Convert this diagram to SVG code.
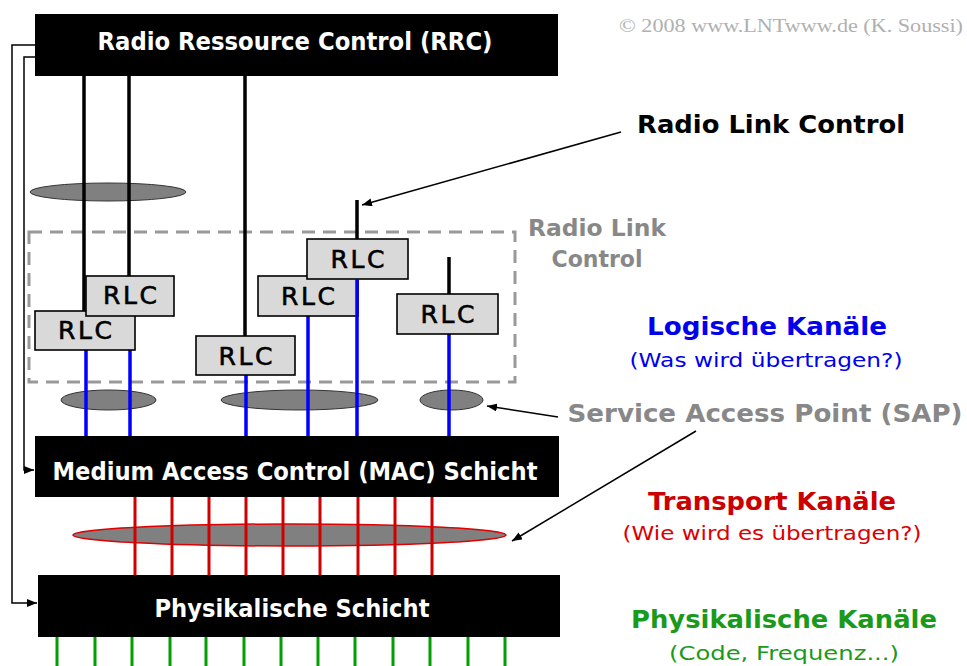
<svg xmlns="http://www.w3.org/2000/svg" width="967" height="666" viewBox="0 0 967 666">
<defs>
<marker id="ah" markerUnits="userSpaceOnUse" markerWidth="11" markerHeight="9" refX="10" refY="4" orient="auto">
<path d="M0,0 L10,4 L0,8 z" fill="#000"/>
</marker>
<style>
.blk{fill:#000}
.wt{fill:#fff;font-family:"DejaVu Sans",sans-serif;font-weight:bold;font-size:24px;text-anchor:middle}
.rlc rect{fill:#d9d9d9;stroke:#000;stroke-width:1.6}
.rlc text{fill:#000;stroke:#000;stroke-width:0.6;font-family:"DejaVu Sans",sans-serif;font-size:25px;text-anchor:middle}
.sap{fill:#808080;stroke:#333;stroke-width:1}
.lb{stroke:#000;stroke-width:3.5;fill:none}
.lu{stroke:#0000ff;stroke-width:3.5;fill:none}
.lr{stroke:#d00000;stroke-width:3;fill:none}
.lg{stroke:#00a000;stroke-width:3;fill:none}
.thin{stroke:#000;stroke-width:1.5;fill:none}
.bold{font-family:"DejaVu Sans",sans-serif;font-weight:bold;text-anchor:middle}
.norm{font-family:"DejaVu Sans",sans-serif;text-anchor:middle}
</style>
</defs>
<rect width="967" height="666" fill="#fff"/>

<g id="rlc-frame">
<rect x="29" y="232" width="486" height="150" fill="none" stroke="#999" stroke-width="3" stroke-dasharray="13 8"/>
</g>

<g id="sap-top"><ellipse class="sap" cx="108" cy="192" rx="78" ry="9"/></g>
<g id="sap-1"><ellipse class="sap" cx="108.5" cy="400" rx="47.5" ry="10"/></g>
<g id="sap-2"><ellipse class="sap" cx="299.5" cy="400" rx="78.5" ry="10"/></g>
<g id="sap-3"><ellipse class="sap" cx="451.5" cy="400" rx="31.5" ry="10"/></g>
<g id="sap-transport"><ellipse cx="289.5" cy="535" rx="216.5" ry="11" fill="#808080" stroke="#e00000" stroke-width="1.5"/></g>

<g id="connectors">
<path class="lb" d="M84,76V311 M129,76V276 M245,76V336 M357,200V239 M449,257V294"/>
<path class="lu" d="M86,350V436 M130,350V436 M246,375V436 M308,316V436 M449,334V436"/>
<path class="lr" d="M135,497V575 M172,497V575 M209,497V575 M246,497V575 M283,497V575 M320,497V575 M358,497V575 M395,497V575 M432,497V575"/>
<path class="lg" d="M57,637V666 M95,637V666 M132,637V666 M170,637V666 M206,637V666 M244,637V666 M281,637V666 M318,637V666 M355,637V666 M393,637V666 M430,637V666 M468,637V666 M505,637V666"/>
<polyline class="thin" points="35,45 12,45 12,603 37,603" marker-end="url(#ah)"/>
<polyline class="thin" points="35,57 24,57 24,470 34,470" marker-end="url(#ah)"/>
<line class="thin" x1="621" y1="132" x2="362" y2="205" marker-end="url(#ah)"/>
<line class="thin" x1="558" y1="417" x2="487" y2="406" marker-end="url(#ah)"/>
<line class="thin" x1="696" y1="431" x2="512" y2="541" marker-end="url(#ah)"/>
</g>

<g id="rlc-b" class="rlc"><rect x="35" y="311" width="100" height="39"/><text x="85" y="339" textLength="54">RLC</text></g>
<g id="rlc-a" class="rlc"><rect x="86" y="276" width="88" height="40"/><text x="130" y="304" textLength="54">RLC</text></g>
<g id="rlc-c" class="rlc"><rect x="196" y="336" width="99" height="39"/><text x="245.5" y="365" textLength="54">RLC</text></g>
<g id="rlc-e" class="rlc"><rect x="258" y="276" width="100" height="40"/><text x="308" y="305" textLength="54">RLC</text></g>
<g id="rlc-d" class="rlc"><rect x="307" y="239" width="101" height="40"/><text x="357.5" y="268" textLength="54">RLC</text></g>
<g id="rlc-f" class="rlc"><rect x="397" y="294" width="101" height="40"/><text x="447.5" y="323" textLength="54">RLC</text></g>
<path class="lu" d="M357,279V436"/>

<g id="rrc"><rect class="blk" x="35" y="14" width="523" height="62"/><text class="wt" x="295" y="50" textLength="395" lengthAdjust="spacingAndGlyphs">Radio Ressource Control (RRC)</text></g>
<g id="mac"><rect class="blk" x="35" y="436" width="524" height="61"/><text class="wt" x="295" y="480" textLength="485" lengthAdjust="spacingAndGlyphs">Medium Access Control (MAC) Schicht</text></g>
<g id="phy"><rect class="blk" x="38" y="575" width="522" height="62"/><text class="wt" x="292" y="617" textLength="275" lengthAdjust="spacingAndGlyphs">Physikalische Schicht</text></g>

<g id="labels">
<text x="791" y="32" font-family="'Liberation Serif',serif" font-size="19" fill="#b0b0b0" text-anchor="middle" textLength="344" lengthAdjust="spacingAndGlyphs">© 2008 www.LNTwww.de (K. Soussi)</text>
<text class="bold" x="771" y="133" font-size="25" fill="#000" textLength="268" lengthAdjust="spacingAndGlyphs">Radio Link Control</text>
<text class="bold" x="597" y="236" font-size="23" fill="#888" textLength="138" lengthAdjust="spacingAndGlyphs">Radio Link</text>
<text class="bold" x="597" y="267" font-size="23" fill="#888" textLength="91" lengthAdjust="spacingAndGlyphs">Control</text>
<text class="bold" x="767" y="335" font-size="25" fill="#0000ee" textLength="240" lengthAdjust="spacingAndGlyphs">Logische Kanäle</text>
<text class="norm" x="766" y="367" font-size="20" fill="#0000ee" textLength="273" lengthAdjust="spacingAndGlyphs">(Was wird übertragen?)</text>
<text class="bold" x="765" y="422" font-size="25" fill="#888" textLength="395" lengthAdjust="spacingAndGlyphs">Service Access Point (SAP)</text>
<text class="bold" x="772" y="510" font-size="25" fill="#cc0000" textLength="248" lengthAdjust="spacingAndGlyphs">Transport Kanäle</text>
<text class="norm" x="772" y="540" font-size="20" fill="#dd0000" textLength="299" lengthAdjust="spacingAndGlyphs">(Wie wird es übertragen?)</text>
<text class="bold" x="784" y="628" font-size="25" fill="#1a9a1a" textLength="306" lengthAdjust="spacingAndGlyphs">Physikalische Kanäle</text>
<text class="norm" x="784" y="660" font-size="20" fill="#1a9a1a" textLength="230" lengthAdjust="spacingAndGlyphs">(Code, Frequenz...)</text>
</g>
</svg>
